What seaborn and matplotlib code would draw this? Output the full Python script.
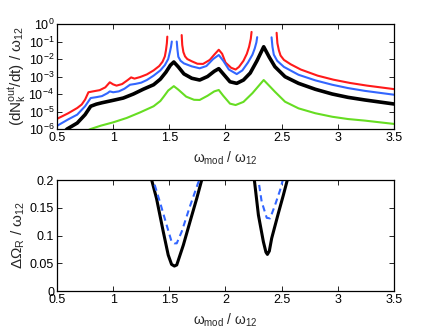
import matplotlib
matplotlib.use("Agg")
import matplotlib.pyplot as plt
import seaborn as sns
import numpy as np
import pandas as pd

# top panel: log10 of rate, each list of segments (gaps near resonances)
red_x = [[0.5, 0.6, 0.68, 0.72, 0.75, 0.78, 0.82, 0.88, 0.93, 0.97, 1.0, 1.03, 1.08, 1.13, 1.16, 1.19, 1.24, 1.30, 1.36, 1.41, 1.44, 1.46, 1.47, 1.478, 1.482],
         [1.61, 1.615, 1.625, 1.64, 1.66, 1.70, 1.75, 1.80, 1.86, 1.90, 1.94, 1.97, 2.0, 2.05, 2.09, 2.12, 2.16, 2.19, 2.21, 2.225, 2.232],
         [2.455, 2.462, 2.475, 2.49, 2.52, 2.58, 2.67, 2.82, 2.96, 3.11, 3.26, 3.5]]
red_y = [[-5.42, -5.1, -4.8, -4.6, -4.32, -3.9, -3.85, -3.78, -3.62, -3.33, -3.45, -3.52, -3.43, -3.2, -3.05, -3.12, -3.03, -2.88, -2.65, -2.4, -2.15, -1.85, -1.5, -1.1, -0.72],
         [-0.63, -1.2, -1.6, -1.85, -2.0, -2.13, -2.27, -2.28, -2.05, -1.75, -1.47, -1.7, -2.2, -2.5, -2.6, -2.45, -2.1, -1.7, -1.3, -0.85, -0.45],
         [-0.5, -1.1, -1.5, -1.8, -2.05, -2.3, -2.6, -2.95, -3.18, -3.37, -3.52, -3.72]]

blue_x = [[0.5, 0.6, 0.68, 0.75, 0.80, 0.85, 0.9, 0.95, 0.97, 1.0, 1.05, 1.1, 1.15, 1.2, 1.25, 1.30, 1.36, 1.42, 1.46, 1.49, 1.505, 1.515, 1.522],
          [1.566, 1.572, 1.58, 1.60, 1.63, 1.70, 1.77, 1.83, 1.89, 1.94, 1.98, 2.03, 2.10, 2.15, 2.20, 2.24, 2.26, 2.275, 2.282],
          [2.41, 2.418, 2.43, 2.46, 2.52, 2.65, 2.80, 2.95, 3.09, 3.24, 3.5]]
blue_y = [[-5.82, -5.45, -5.18, -4.7, -4.23, -4.18, -4.12, -3.95, -3.85, -3.9, -3.85, -3.7, -3.47, -3.42, -3.35, -3.2, -2.95, -2.65, -2.35, -2.0, -1.6, -1.3, -1.0],
          [-1.0, -1.45, -1.87, -2.1, -2.25, -2.42, -2.53, -2.4, -2.0, -1.77, -2.1, -2.6, -2.86, -2.65, -2.2, -1.75, -1.4, -1.05, -0.75],
          [-0.76, -1.3, -1.75, -2.1, -2.45, -2.9, -3.22, -3.47, -3.66, -3.82, -4.04]]

black_x = [0.5, 0.59, 0.63, 0.68, 0.75, 0.80, 0.85, 0.9, 1.0, 1.09, 1.18, 1.27, 1.36, 1.42, 1.47, 1.51, 1.54, 1.58, 1.63, 1.70, 1.77,
           1.84, 1.90, 1.94, 1.98, 2.04, 2.10, 2.16, 2.22, 2.28, 2.34, 2.39, 2.44, 2.53, 2.65, 2.80, 2.95, 3.09, 3.24, 3.5]
black_y = [-6.6, -6.0, -5.85, -5.66, -5.18, -4.7, -4.58, -4.5, -4.36, -4.23, -4.0, -3.72, -3.47, -3.15, -2.75, -2.35, -2.17, -2.45, -2.85, -3.1, -3.2,
           -3.0, -2.7, -2.55, -2.85, -3.3, -3.39, -3.2, -2.8, -2.1, -1.3, -1.9, -2.44, -3.01, -3.39, -3.73, -4.0, -4.19, -4.34, -4.57]

green_x = [0.7, 0.80, 0.89, 1.0, 1.12, 1.24, 1.36, 1.42, 1.45, 1.49, 1.54, 1.58, 1.65, 1.72, 1.77, 1.84, 1.90, 1.94, 1.98, 2.04, 2.09,
           2.16, 2.24, 2.30, 2.34, 2.40, 2.44, 2.53, 2.65, 2.80, 2.95, 3.09, 3.24, 3.5]
green_y = [-6.3, -6.0, -5.81, -5.62, -5.37, -5.05, -4.7, -4.4, -4.15, -3.8, -3.55, -3.75, -4.15, -4.33, -4.34, -4.1, -3.85, -3.77, -4.1, -4.55, -4.63,
           -4.45, -3.95, -3.5, -3.2, -3.6, -3.87, -4.44, -4.82, -5.1, -5.3, -5.43, -5.52, -5.71]

# bottom panel: width of resonance
solid_x = [[1.335, 1.343, 1.386, 1.446, 1.49, 1.52, 1.545, 1.566, 1.625, 1.684, 1.744, 1.788, 1.795],
           [2.25, 2.257, 2.293, 2.337, 2.36, 2.373, 2.39, 2.411, 2.47, 2.515, 2.55, 2.556]]
solid_y = [[0.21, 0.2, 0.167, 0.107, 0.065, 0.048, 0.045, 0.047, 0.083, 0.125, 0.167, 0.2, 0.21],
           [0.21, 0.2, 0.137, 0.089, 0.07, 0.066, 0.072, 0.095, 0.14, 0.173, 0.2, 0.21]]
dash_x = [[1.35, 1.357, 1.417, 1.476, 1.52, 1.545, 1.566, 1.61, 1.684, 1.758, 1.77, 1.775],
          [2.288, 2.293, 2.322, 2.367, 2.397, 2.441, 2.486, 2.51, 2.515]]
dash_y = [[0.21, 0.2, 0.16, 0.119, 0.089, 0.086, 0.086, 0.107, 0.153, 0.196, 0.2, 0.21],
          [0.21, 0.2, 0.161, 0.132, 0.131, 0.155, 0.182, 0.2, 0.21]]

sns.set_style("ticks")
plt.rcParams['font.family'] = ['Liberation Sans', 'DejaVu Sans']
plt.rcParams['mathtext.fontset'] = 'custom'
plt.rcParams['mathtext.rm'] = 'Liberation Sans'
plt.rcParams['mathtext.it'] = 'Liberation Sans'

fig = plt.figure(figsize=(4.36, 3.28), dpi=100)
ax1 = fig.add_axes([0.1307, 0.6067, 0.773, 0.320])
ax2 = fig.add_axes([0.1307, 0.1128, 0.773, 0.338])

red = '#ff1a1a'
blue = '#3366ff'
green = '#66dd22'

for xs, ys in zip(red_x, red_y):
    sns.lineplot(x=xs, y=10 ** np.array(ys), ax=ax1, color=red, lw=1.5, sort=False)
for xs, ys in zip(blue_x, blue_y):
    sns.lineplot(x=xs, y=10 ** np.array(ys), ax=ax1, color=blue, lw=1.5, sort=False)
sns.lineplot(x=black_x, y=10 ** np.array(black_y), ax=ax1, color='black', lw=2.6, sort=False)
sns.lineplot(x=green_x, y=10 ** np.array(green_y), ax=ax1, color=green, lw=1.5, sort=False)

ax1.set_yscale('log')
ax1.set_xlim(0.5, 3.5)
ax1.set_ylim(1e-6, 1)
ax1.set_yticks([10.0 ** k for k in range(-6, 1)])
ax1.set_yticklabels([r'$10^{%d}$' % k for k in range(-6, 1)])
ax1.set_xticks([0.5, 1, 1.5, 2, 2.5, 3, 3.5])
ax1.set_xticklabels(['0.5', '1', '1.5', '2', '2.5', '3', '3.5'])
ax1.set_xlabel(r'$\omega_{\mathrm{mod}}$ / $\omega_{12}$', fontsize=10, labelpad=4)
ax1.set_ylabel(r'(dN$_k^{\mathrm{out}}$/dt) / $\omega_{12}$', fontsize=11, labelpad=0)

for xs, ys in zip(solid_x, solid_y):
    sns.lineplot(x=xs, y=ys, ax=ax2, color='black', lw=2.2, sort=False)
for xs, ys in zip(dash_x, dash_y):
    sns.lineplot(x=xs, y=ys, ax=ax2, color=blue, lw=1.5, sort=False, dashes=False, linestyle=(0, (3, 2)))

ax2.set_xlim(0.5, 3.5)
ax2.set_ylim(0, 0.2)
ax2.set_xticks([0.5, 1, 1.5, 2, 2.5, 3, 3.5])
ax2.set_xticklabels(['0.5', '1', '1.5', '2', '2.5', '3', '3.5'])
ax2.set_yticks([0, 0.05, 0.1, 0.15, 0.2])
ax2.set_yticklabels(['0', '0.05', '0.1', '0.15', '0.2'])
ax2.set_xlabel(r'$\omega_{\mathrm{mod}}$ / $\omega_{12}$', fontsize=10, labelpad=4)
ax2.set_ylabel(r'$\Delta\Omega_{\mathrm{R}}$ / $\omega_{12}$', fontsize=11, labelpad=2)

for ax in (ax1, ax2):
    for s in ax.spines.values():
        s.set_visible(True)
        s.set_linewidth(0.9)
        s.set_color('black')
    ax.tick_params(which='both', direction='in', top=True, right=True, labelsize=9, pad=2, colors='black')
    ax.tick_params(which='major', length=3.5, width=0.6)
    ax.tick_params(which='minor', length=2, width=0.5)
    ax.grid(False)

fig.savefig('out.png', dpi=100)
